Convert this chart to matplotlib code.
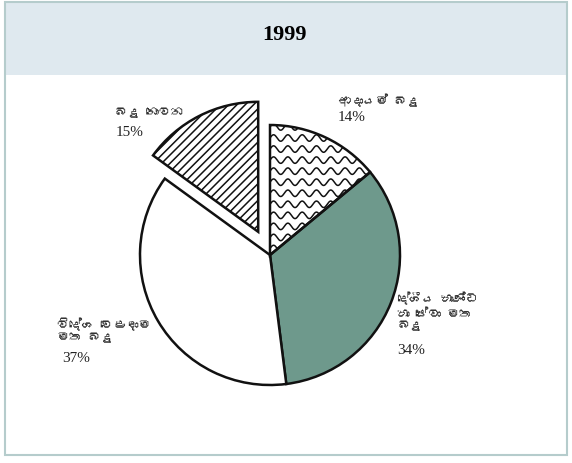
import numpy as np
import matplotlib
matplotlib.use("Agg")
import matplotlib.pyplot as plt
from matplotlib import font_manager
from matplotlib.ft2font import FT2Font
from matplotlib.patches import Rectangle

# data
labels = ["ආදායම් බදු", "දේශීය භාණ්ඩ\nහා සේවා මත\nබදු", "විදේශ වෙළඳාම\nමත බදු", "බදු නොවන"]
shares = [14, 34, 37, 15]
title = "1999"


# find some font that can draw Sinhala, fall back to DejaVu
def sinhala_font():
    for f in font_manager.fontManager.ttflist:
        try:
            if 0x0DB6 in FT2Font(f.fname).get_charmap():
                return f.name
        except Exception:
            pass
    return "DejaVu Sans"


sin_fam = [sinhala_font(), "DejaVu Sans"]
plt.rcParams["hatch.linewidth"] = 1.1

fig = plt.figure(figsize=(5.72, 4.63), dpi=100)
W, H = 572, 463

# banner and frame
fig.patches.append(Rectangle((5 / W, 1 - 75 / H), 562 / W, 73 / H, transform=fig.transFigure,
                             facecolor="#dfe9ef", edgecolor="none", zorder=0))
fig.patches.append(Rectangle((5 / W, 1 - 455 / H), 562 / W, 453 / H, transform=fig.transFigure,
                             facecolor="none", edgecolor="#b5cccc", lw=1.5, zorder=1))
fig.text(285 / W, 1 - 35 / H, title, ha="center", va="center", fontsize=16,
         fontweight="bold", family="Liberation Serif")

# pie axes, 400px square around the centre (270, 255)
ax = fig.add_axes([70 / W, (H - 255 - 200) / H, 400 / W, 400 / H])
ax.axis("off")

wedges, _ = ax.pie(shares, startangle=90, counterclock=False, radius=1,
                   explode=[0, 0, 0, 0.2],
                   colors=["white", "#6e998c", "white", "white"],
                   wedgeprops=dict(edgecolor="#111111", linewidth=1.8))
wedges[3].set_hatch("////")
# pie resets the limits, so set them afterwards: 130px per unit
lim = 200 / 130
ax.set_xlim(-lim, lim)
ax.set_ylim(-lim, lim)
ax.set_aspect("equal")

# wavy fill for income tax
xs = np.linspace(-0.1, 1.1, 400)
for y0 in np.arange(0.05, 1.0, 0.085):
    ln, = ax.plot(xs, y0 + 0.025 * np.sin(xs / 0.11 * 2 * np.pi), color="#111111", lw=1.1)
    ln.set_clip_path(wedges[0])
wedges[0].set_zorder(3)
wedges[0].set_facecolor("none")

# labels
pct_font = dict(family="Liberation Serif", fontsize=11, color="#222222")
sin_font = dict(family=sin_fam, fontsize=9, color="#333333")
spots = [(0.52, 1.24), (0.98, -0.28), (-1.64, -0.48), (-1.19, 1.13)]
for lab, val, (x, y) in zip(labels, shares, spots):
    n = lab.count("\n") + 1
    ax.text(x, y, lab, ha="left", va="top", linespacing=1.25, **sin_font)
    ax.text(x + (0.04 if val == 37 else 0), y - 0.135 * n, f"{val}%",
            ha="left", va="top", **pct_font)

fig.savefig("out.png", dpi=100)
